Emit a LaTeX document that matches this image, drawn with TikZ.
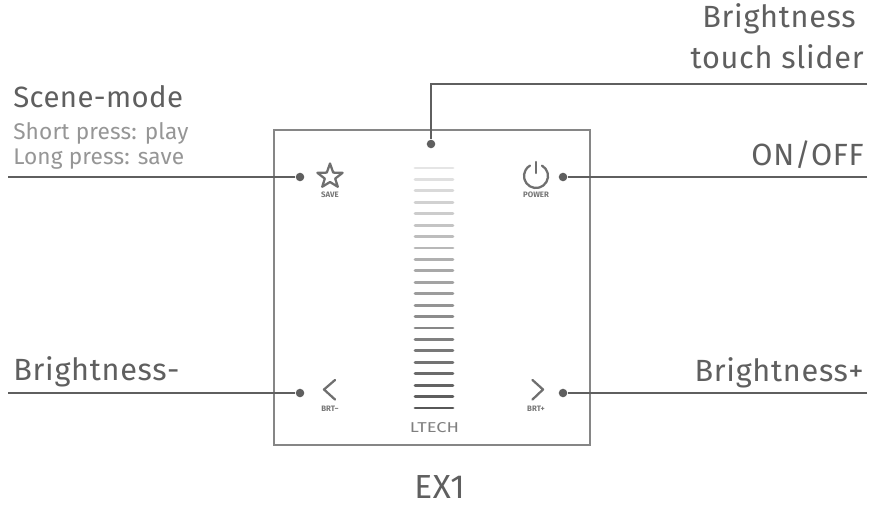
\documentclass[tikz,border=0pt]{standalone}
\usepackage{fontspec}
\setmainfont{Fira Sans}
\newfontfamily\lab[LetterSpace=1.4]{Fira Sans}
\newfontfamily\labw[LetterSpace=2.3]{Fira Sans}
\newfontfamily\subl[LetterSpace=0.6]{Fira Sans}
\definecolor{ink}{HTML}{5F5F5F}
\definecolor{subink}{HTML}{969696}
\definecolor{wire}{HTML}{5F5F5F}
\definecolor{frame}{HTML}{868686}
\tikzset{
  x=0.75pt,y=-0.75pt,
  big/.style={anchor=base west,inner sep=0,text=ink,font=\labw\fontsize{23}{24}\selectfont},
  bigr/.style={anchor=base east,inner sep=0,text=ink,font=\labw\fontsize{23}{24}\selectfont},
  small/.style={anchor=base west,inner sep=0,text=subink,font=\subl\fontsize{17}{18}\selectfont},
  key/.style={inner sep=0,text=ink!85,font=\fontsize{5.9}{6}\bfseries\selectfont},
  pin/.style={circle,fill=ink,inner sep=0,minimum size=6.4pt},
  wireline/.style={draw=wire,line width=1.5pt},
  icon/.style={draw=ink!90,line width=1.7pt,line join=round,line cap=round},
  bar/.style={line width=2.1pt,line cap=round}
}
\begin{document}
\begin{tikzpicture}
\useasboundingbox (0,0) rectangle (887,506);
\fill[white] (0,0) rectangle (887,506);
\draw[frame,line width=1.9pt] (274,130) rectangle (590,445);
% slider bars
\foreach \i in {0,...,21}{
  \pgfmathtruncatemacro{\shade}{10+\i*2.7}
  \pgfmathsetmacro{\yy}{168+\i*11.43}
  \draw[bar,black!\shade!white] (415,\yy) -- (453,\yy);
}
% pins
\node[pin] (pinS) at (300,177) {};
\node[pin] (pinP) at (563,177) {};
\node[pin] (pinM) at (300,393) {};
\node[pin] (pinA) at (563,393) {};
\node[pin] (pinT) at (431,144) {};
\coordinate (endS) at (8,177);
\coordinate (endP) at (867,177);
\coordinate (endM) at (8,393);
\coordinate (endA) at (867,393);
\coordinate (endT) at (867,84);
\draw[wireline] (endS) -- (pinS);
\draw[wireline] (endP) -- (pinP);
\draw[wireline] (endM) -- (pinM);
\draw[wireline] (endA) -- (pinA);
\draw[wireline] (endT) -- (431,84) -- (pinT);
% icons
\draw[icon] (330,163.5)
  -- (333.2,172.6) -- (342.6,172.8) -- (335.2,178.6) -- (337.8,186.8) -- (330,182) -- (322.2,186.8) -- (324.8,178.6) -- (317.4,172.8) -- (326.8,172.6) -- cycle;
\draw[icon] (542,165.6) arc[start angle=-60,end angle=240,radius=12];
\draw[icon] (536,162) -- (536,173);
\draw[icon] (335,380) -- (324,389.5) -- (335,399.5);
\draw[icon] (532.5,380) -- (543,389.5) -- (532.5,399.5);
% labels
\node[key] (lsave) at (330,194.5) {SAVE};
\node[key] (lpower) at (536,194.5) {POWER};
\node[key] (lminus) at (330,408.5) {BRT−};
\node[key] (lplus) at (536,408.5) {BRT+};
\node[inner sep=0,text=ink!80] (logo) at (434.5,428) {\resizebox{37pt}{7.5pt}{\fontsize{10}{10}\selectfont LTECH}};
\node[big,font=\lab\fontsize{22}{24}\selectfont] (scene) at (13,108) {Scene-mode};
\node[small] (short) at (13,139) {Short press: play};
\node[small] (long) at (13,164) {Long press: save};
\node[bigr] (bright) at (856,28) {Brightness};
\node[bigr] (touch) at (864,69) {touch slider};
\node[bigr] (onoff) at (864,165) {ON/OFF};
\node[big] (bminus) at (13,380) {Brightness-};
\node[bigr] (bplus) at (864,381) {Brightness+};
\node[big,font=\labw\fontsize{25}{26}\selectfont] (ex) at (414,498) {EX1};
\end{tikzpicture}
\end{document}
